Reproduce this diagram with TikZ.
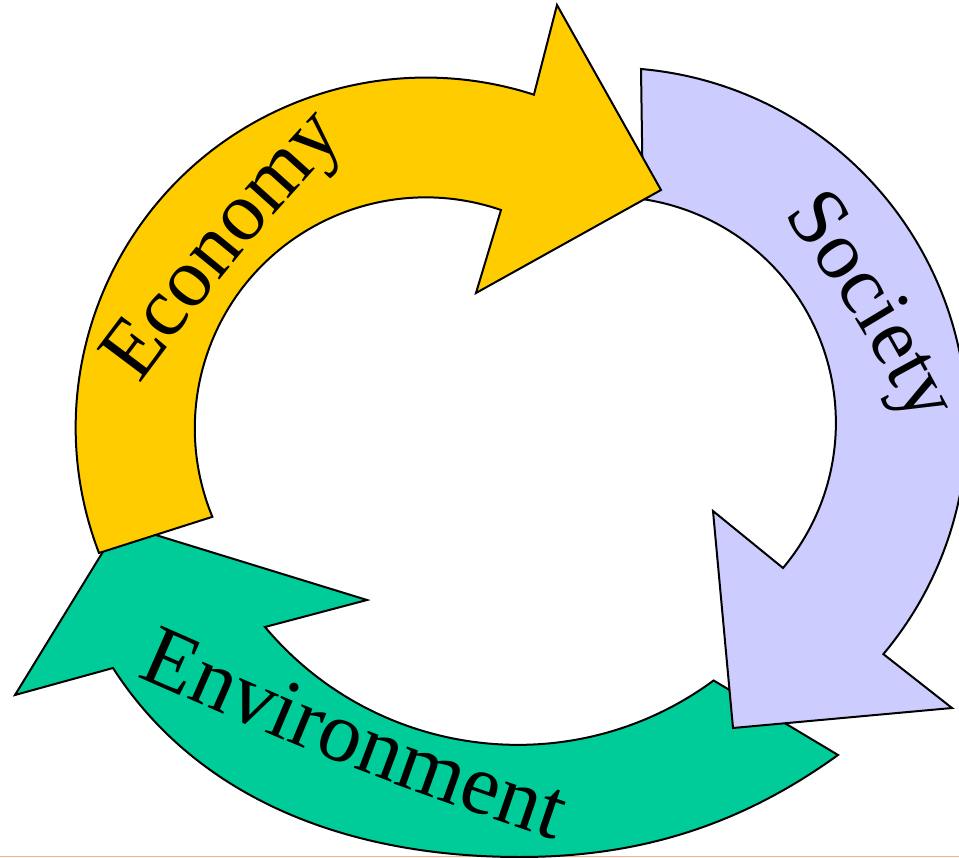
\documentclass[tikz,border=0pt]{standalone}
\usepackage{fontspec}
\setmainfont{Liberation Serif}
\usetikzlibrary{decorations.text}

\definecolor{econ}{HTML}{FFCC00}
\definecolor{soc}{HTML}{CCCCFF}
\definecolor{env}{HTML}{00CC99}
\definecolor{rulecol}{HTML}{F4B084}

\newcommand{\cyclefont}[1]{\fontsize{#1pt}{#1pt}\selectfont}

\tikzstyle{band} = [draw=black, line width=2pt, line join=miter]
\tikzstyle{arctext} = [decorate, decoration={text along path, text align=center}]
\tikzstyle{baseline rule} = [draw=rulecol, line width=1.5pt]

\begin{document}
\begin{tikzpicture}[x=1pt, y=-1pt]
	\useasboundingbox (0,0) rectangle (959,858);
	\draw[baseline rule] (0,856.5) -- (959,856.5);
	% environment arrow, points left
	\draw[band, fill=env] (838,755) .. controls (741,825) and (640,857) .. (520,857)
		.. controls (340,857) and (194,794) .. (113,668)
		-- (15,695) -- (120,524) -- (367,600) -- (265,627)
		arc[start angle=140, end angle=53.6, radius=330] -- cycle;
	% society arrow, points down
	\draw[band, fill=soc] (641,69) arc[start angle=275, end angle=400, radius=357]
		-- (952,708) -- (733,728) -- (713,511) -- (783,568)
		arc[start angle=40, end angle=-81.6, radius=226] -- cycle;
	% economy arrow, points right
	\draw[band, fill=econ] (99,553) arc[start angle=159, end angle=288, radius=350]
		-- (557,5) -- (661,190) -- (476,293) -- (501,210)
		arc[start angle=289, end angle=157.5, radius=231] -- cycle;
	% labels along the bands
	\path[arctext, decoration={text={|\cyclefont{84}|Economy}}] (111.6,421.8) .. controls (235.5,255.9) .. (375.5,103.3);
	\path[arctext, decoration={text={|\cyclefont{83}|Society}}] (766.3,190.9) .. controls (856.3,316) .. (928.8,452.2);
	\path[arctext, decoration={text={|\cyclefont{86}|Environment}}] (100,660) .. controls (350,770) .. (593,853);
\end{tikzpicture}
\end{document}
